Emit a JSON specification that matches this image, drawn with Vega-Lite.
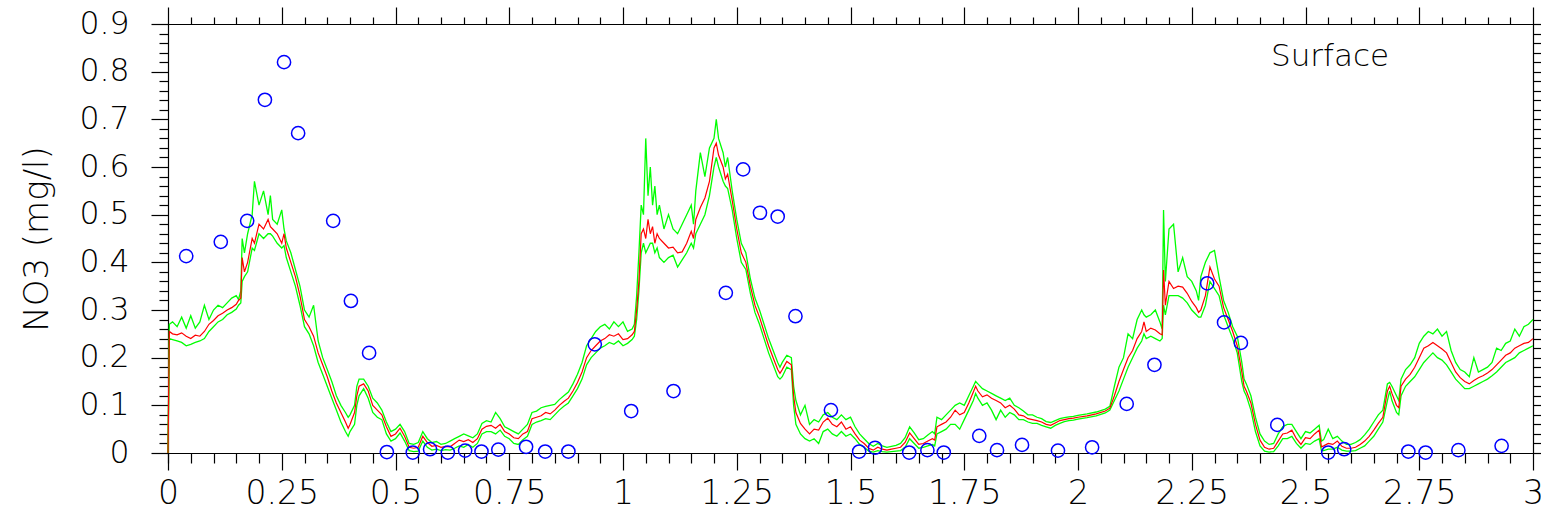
{
  "$schema": "https://vega.github.io/schema/vega-lite/v6.json",
  "autosize": {"type": "none"},
  "padding": {"left": 168, "top": 24, "right": 8, "bottom": 65},
  "width": 1365,
  "height": 429,
  "background": "white",
  "config": {
    "view": {"stroke": "black", "strokeWidth": 1},
    "axis": {"domainColor": "black", "tickColor": "black", "labelColor": "black", "titleColor": "black", "grid": false, "labelFont": "DejaVu Sans", "labelFontWeight": 200, "titleFont": "DejaVu Sans", "titleFontWeight": 200, "domainWidth": 1.2, "tickWidth": 1.2}
  },
  "datasets": {
    "lines": [
      {"t":0,"m":0,"lo":0,"hi":0},
      {"t":0.003,"m":0.255,"lo":0.24,"hi":0.27},
      {"t":0.01,"m":0.25,"lo":0.238,"hi":0.275},
      {"t":0.02,"m":0.248,"lo":0.235,"hi":0.265},
      {"t":0.03,"m":0.252,"lo":0.232,"hi":0.285},
      {"t":0.04,"m":0.245,"lo":0.225,"hi":0.262},
      {"t":0.05,"m":0.24,"lo":0.228,"hi":0.288},
      {"t":0.06,"m":0.247,"lo":0.232,"hi":0.262},
      {"t":0.07,"m":0.245,"lo":0.235,"hi":0.275},
      {"t":0.08,"m":0.255,"lo":0.24,"hi":0.31},
      {"t":0.09,"m":0.27,"lo":0.255,"hi":0.28},
      {"t":0.1,"m":0.278,"lo":0.265,"hi":0.3},
      {"t":0.11,"m":0.288,"lo":0.275,"hi":0.31},
      {"t":0.12,"m":0.293,"lo":0.28,"hi":0.305},
      {"t":0.13,"m":0.3,"lo":0.29,"hi":0.315},
      {"t":0.14,"m":0.305,"lo":0.295,"hi":0.325},
      {"t":0.15,"m":0.312,"lo":0.302,"hi":0.33},
      {"t":0.155,"m":0.32,"lo":0.31,"hi":0.322},
      {"t":0.16,"m":0.325,"lo":0.315,"hi":0.34},
      {"t":0.163,"m":0.41,"lo":0.36,"hi":0.45},
      {"t":0.168,"m":0.38,"lo":0.37,"hi":0.42},
      {"t":0.175,"m":0.4,"lo":0.38,"hi":0.46},
      {"t":0.185,"m":0.45,"lo":0.43,"hi":0.5},
      {"t":0.19,"m":0.44,"lo":0.425,"hi":0.57},
      {"t":0.2,"m":0.48,"lo":0.46,"hi":0.52},
      {"t":0.21,"m":0.47,"lo":0.45,"hi":0.55},
      {"t":0.22,"m":0.49,"lo":0.46,"hi":0.5},
      {"t":0.225,"m":0.475,"lo":0.46,"hi":0.54},
      {"t":0.23,"m":0.47,"lo":0.455,"hi":0.49},
      {"t":0.24,"m":0.46,"lo":0.44,"hi":0.48},
      {"t":0.25,"m":0.44,"lo":0.43,"hi":0.51},
      {"t":0.255,"m":0.46,"lo":0.435,"hi":0.47},
      {"t":0.26,"m":0.43,"lo":0.41,"hi":0.445},
      {"t":0.27,"m":0.4,"lo":0.38,"hi":0.42},
      {"t":0.28,"m":0.37,"lo":0.35,"hi":0.385},
      {"t":0.29,"m":0.33,"lo":0.31,"hi":0.35},
      {"t":0.3,"m":0.28,"lo":0.265,"hi":0.3},
      {"t":0.31,"m":0.265,"lo":0.25,"hi":0.285},
      {"t":0.32,"m":0.245,"lo":0.225,"hi":0.31},
      {"t":0.33,"m":0.21,"lo":0.19,"hi":0.235},
      {"t":0.34,"m":0.185,"lo":0.165,"hi":0.2},
      {"t":0.35,"m":0.16,"lo":0.14,"hi":0.175},
      {"t":0.36,"m":0.13,"lo":0.115,"hi":0.15},
      {"t":0.37,"m":0.105,"lo":0.09,"hi":0.12},
      {"t":0.38,"m":0.085,"lo":0.065,"hi":0.1},
      {"t":0.39,"m":0.065,"lo":0.045,"hi":0.085},
      {"t":0.396,"m":0.052,"lo":0.035,"hi":0.075},
      {"t":0.4,"m":0.06,"lo":0.045,"hi":0.08},
      {"t":0.41,"m":0.085,"lo":0.06,"hi":0.1},
      {"t":0.415,"m":0.12,"lo":0.1,"hi":0.14},
      {"t":0.42,"m":0.14,"lo":0.12,"hi":0.155},
      {"t":0.43,"m":0.145,"lo":0.135,"hi":0.155},
      {"t":0.44,"m":0.13,"lo":0.115,"hi":0.14},
      {"t":0.45,"m":0.1,"lo":0.085,"hi":0.115},
      {"t":0.46,"m":0.09,"lo":0.075,"hi":0.105},
      {"t":0.47,"m":0.08,"lo":0.07,"hi":0.09},
      {"t":0.48,"m":0.055,"lo":0.04,"hi":0.065},
      {"t":0.49,"m":0.035,"lo":0.025,"hi":0.045},
      {"t":0.5,"m":0.04,"lo":0.03,"hi":0.05},
      {"t":0.51,"m":0.052,"lo":0.042,"hi":0.06},
      {"t":0.52,"m":0.035,"lo":0.025,"hi":0.045},
      {"t":0.53,"m":0.012,"lo":0.005,"hi":0.02},
      {"t":0.54,"m":0.01,"lo":0.003,"hi":0.018},
      {"t":0.55,"m":0.012,"lo":0.004,"hi":0.022},
      {"t":0.56,"m":0.035,"lo":0.025,"hi":0.045},
      {"t":0.57,"m":0.022,"lo":0.012,"hi":0.03},
      {"t":0.58,"m":0.014,"lo":0.006,"hi":0.022},
      {"t":0.59,"m":0.016,"lo":0.008,"hi":0.024},
      {"t":0.6,"m":0.012,"lo":0.005,"hi":0.018},
      {"t":0.61,"m":0.014,"lo":0.007,"hi":0.02},
      {"t":0.62,"m":0.013,"lo":0.006,"hi":0.025},
      {"t":0.63,"m":0.02,"lo":0.01,"hi":0.03},
      {"t":0.64,"m":0.027,"lo":0.015,"hi":0.035},
      {"t":0.65,"m":0.024,"lo":0.012,"hi":0.04},
      {"t":0.66,"m":0.028,"lo":0.018,"hi":0.036},
      {"t":0.67,"m":0.022,"lo":0.012,"hi":0.032},
      {"t":0.68,"m":0.03,"lo":0.02,"hi":0.04},
      {"t":0.69,"m":0.05,"lo":0.04,"hi":0.062},
      {"t":0.7,"m":0.056,"lo":0.045,"hi":0.068},
      {"t":0.71,"m":0.058,"lo":0.045,"hi":0.065},
      {"t":0.72,"m":0.052,"lo":0.04,"hi":0.085},
      {"t":0.73,"m":0.06,"lo":0.048,"hi":0.072},
      {"t":0.74,"m":0.045,"lo":0.035,"hi":0.055},
      {"t":0.75,"m":0.04,"lo":0.03,"hi":0.05},
      {"t":0.76,"m":0.032,"lo":0.02,"hi":0.045},
      {"t":0.77,"m":0.03,"lo":0.018,"hi":0.04},
      {"t":0.78,"m":0.04,"lo":0.028,"hi":0.05},
      {"t":0.79,"m":0.045,"lo":0.035,"hi":0.06},
      {"t":0.8,"m":0.072,"lo":0.06,"hi":0.085},
      {"t":0.81,"m":0.075,"lo":0.065,"hi":0.088},
      {"t":0.82,"m":0.078,"lo":0.068,"hi":0.095},
      {"t":0.83,"m":0.085,"lo":0.072,"hi":0.098},
      {"t":0.84,"m":0.082,"lo":0.07,"hi":0.1},
      {"t":0.85,"m":0.09,"lo":0.08,"hi":0.102},
      {"t":0.86,"m":0.1,"lo":0.09,"hi":0.112},
      {"t":0.87,"m":0.108,"lo":0.098,"hi":0.12},
      {"t":0.88,"m":0.115,"lo":0.105,"hi":0.128},
      {"t":0.89,"m":0.13,"lo":0.12,"hi":0.145},
      {"t":0.9,"m":0.148,"lo":0.135,"hi":0.165},
      {"t":0.91,"m":0.17,"lo":0.155,"hi":0.19},
      {"t":0.92,"m":0.2,"lo":0.185,"hi":0.225},
      {"t":0.93,"m":0.215,"lo":0.2,"hi":0.24},
      {"t":0.94,"m":0.225,"lo":0.21,"hi":0.255},
      {"t":0.95,"m":0.235,"lo":0.22,"hi":0.265},
      {"t":0.96,"m":0.24,"lo":0.225,"hi":0.27},
      {"t":0.97,"m":0.248,"lo":0.232,"hi":0.26},
      {"t":0.98,"m":0.245,"lo":0.228,"hi":0.275},
      {"t":0.99,"m":0.25,"lo":0.235,"hi":0.265},
      {"t":1.0,"m":0.238,"lo":0.225,"hi":0.275},
      {"t":1.01,"m":0.24,"lo":0.23,"hi":0.255},
      {"t":1.02,"m":0.248,"lo":0.238,"hi":0.26},
      {"t":1.025,"m":0.255,"lo":0.245,"hi":0.27},
      {"t":1.03,"m":0.3,"lo":0.28,"hi":0.33},
      {"t":1.035,"m":0.36,"lo":0.34,"hi":0.42},
      {"t":1.04,"m":0.46,"lo":0.42,"hi":0.52},
      {"t":1.045,"m":0.47,"lo":0.44,"hi":0.5},
      {"t":1.05,"m":0.45,"lo":0.42,"hi":0.66},
      {"t":1.055,"m":0.49,"lo":0.43,"hi":0.54},
      {"t":1.06,"m":0.46,"lo":0.44,"hi":0.6},
      {"t":1.065,"m":0.475,"lo":0.44,"hi":0.52},
      {"t":1.07,"m":0.44,"lo":0.42,"hi":0.56},
      {"t":1.075,"m":0.46,"lo":0.43,"hi":0.5},
      {"t":1.08,"m":0.45,"lo":0.41,"hi":0.52},
      {"t":1.09,"m":0.44,"lo":0.4,"hi":0.47},
      {"t":1.1,"m":0.43,"lo":0.41,"hi":0.5},
      {"t":1.11,"m":0.432,"lo":0.415,"hi":0.47},
      {"t":1.12,"m":0.42,"lo":0.39,"hi":0.46},
      {"t":1.13,"m":0.422,"lo":0.405,"hi":0.48},
      {"t":1.14,"m":0.44,"lo":0.42,"hi":0.5},
      {"t":1.15,"m":0.465,"lo":0.44,"hi":0.52},
      {"t":1.155,"m":0.45,"lo":0.43,"hi":0.48},
      {"t":1.16,"m":0.49,"lo":0.46,"hi":0.55},
      {"t":1.17,"m":0.515,"lo":0.48,"hi":0.63},
      {"t":1.18,"m":0.535,"lo":0.5,"hi":0.58},
      {"t":1.19,"m":0.57,"lo":0.54,"hi":0.64},
      {"t":1.2,"m":0.64,"lo":0.6,"hi":0.66},
      {"t":1.205,"m":0.65,"lo":0.62,"hi":0.7},
      {"t":1.21,"m":0.625,"lo":0.6,"hi":0.66},
      {"t":1.22,"m":0.6,"lo":0.57,"hi":0.63},
      {"t":1.225,"m":0.575,"lo":0.56,"hi":0.6},
      {"t":1.23,"m":0.585,"lo":0.555,"hi":0.62},
      {"t":1.24,"m":0.53,"lo":0.51,"hi":0.55},
      {"t":1.25,"m":0.47,"lo":0.45,"hi":0.49},
      {"t":1.26,"m":0.42,"lo":0.4,"hi":0.44},
      {"t":1.27,"m":0.4,"lo":0.385,"hi":0.42},
      {"t":1.28,"m":0.35,"lo":0.335,"hi":0.365},
      {"t":1.29,"m":0.31,"lo":0.295,"hi":0.325},
      {"t":1.3,"m":0.285,"lo":0.27,"hi":0.3},
      {"t":1.31,"m":0.255,"lo":0.24,"hi":0.27},
      {"t":1.32,"m":0.225,"lo":0.21,"hi":0.24},
      {"t":1.33,"m":0.2,"lo":0.185,"hi":0.215},
      {"t":1.34,"m":0.175,"lo":0.16,"hi":0.19},
      {"t":1.345,"m":0.167,"lo":0.155,"hi":0.18},
      {"t":1.35,"m":0.175,"lo":0.16,"hi":0.19},
      {"t":1.36,"m":0.192,"lo":0.18,"hi":0.205},
      {"t":1.37,"m":0.185,"lo":0.175,"hi":0.2},
      {"t":1.375,"m":0.12,"lo":0.1,"hi":0.14},
      {"t":1.38,"m":0.085,"lo":0.06,"hi":0.11},
      {"t":1.39,"m":0.062,"lo":0.04,"hi":0.08},
      {"t":1.4,"m":0.05,"lo":0.03,"hi":0.1},
      {"t":1.41,"m":0.04,"lo":0.025,"hi":0.06},
      {"t":1.42,"m":0.05,"lo":0.03,"hi":0.07},
      {"t":1.43,"m":0.048,"lo":0.02,"hi":0.065},
      {"t":1.44,"m":0.065,"lo":0.045,"hi":0.08},
      {"t":1.45,"m":0.073,"lo":0.05,"hi":0.085},
      {"t":1.46,"m":0.06,"lo":0.04,"hi":0.075},
      {"t":1.47,"m":0.055,"lo":0.035,"hi":0.07},
      {"t":1.48,"m":0.065,"lo":0.045,"hi":0.08},
      {"t":1.49,"m":0.05,"lo":0.035,"hi":0.07},
      {"t":1.5,"m":0.055,"lo":0.04,"hi":0.075},
      {"t":1.51,"m":0.04,"lo":0.03,"hi":0.055},
      {"t":1.52,"m":0.027,"lo":0.018,"hi":0.04},
      {"t":1.53,"m":0.02,"lo":0.012,"hi":0.03},
      {"t":1.54,"m":0.01,"lo":0.004,"hi":0.02},
      {"t":1.55,"m":0.006,"lo":0.002,"hi":0.014},
      {"t":1.56,"m":0.012,"lo":0.005,"hi":0.02},
      {"t":1.57,"m":0.008,"lo":0.003,"hi":0.015},
      {"t":1.58,"m":0.006,"lo":0.002,"hi":0.012},
      {"t":1.59,"m":0.008,"lo":0.003,"hi":0.014},
      {"t":1.6,"m":0.01,"lo":0.004,"hi":0.016},
      {"t":1.61,"m":0.012,"lo":0.005,"hi":0.02},
      {"t":1.62,"m":0.022,"lo":0.012,"hi":0.032},
      {"t":1.63,"m":0.042,"lo":0.03,"hi":0.055},
      {"t":1.64,"m":0.03,"lo":0.02,"hi":0.042},
      {"t":1.65,"m":0.018,"lo":0.01,"hi":0.028},
      {"t":1.66,"m":0.02,"lo":0.012,"hi":0.03},
      {"t":1.67,"m":0.025,"lo":0.015,"hi":0.038},
      {"t":1.68,"m":0.03,"lo":0.018,"hi":0.045},
      {"t":1.685,"m":0.027,"lo":0.015,"hi":0.04},
      {"t":1.69,"m":0.055,"lo":0.04,"hi":0.075},
      {"t":1.7,"m":0.06,"lo":0.045,"hi":0.07},
      {"t":1.71,"m":0.065,"lo":0.05,"hi":0.08},
      {"t":1.72,"m":0.075,"lo":0.06,"hi":0.09},
      {"t":1.73,"m":0.09,"lo":0.06,"hi":0.1},
      {"t":1.74,"m":0.08,"lo":0.05,"hi":0.105},
      {"t":1.75,"m":0.085,"lo":0.07,"hi":0.1},
      {"t":1.76,"m":0.105,"lo":0.09,"hi":0.12},
      {"t":1.77,"m":0.128,"lo":0.11,"hi":0.14},
      {"t":1.775,"m":0.14,"lo":0.125,"hi":0.15},
      {"t":1.78,"m":0.13,"lo":0.115,"hi":0.145},
      {"t":1.79,"m":0.118,"lo":0.1,"hi":0.135},
      {"t":1.8,"m":0.122,"lo":0.105,"hi":0.13},
      {"t":1.81,"m":0.115,"lo":0.09,"hi":0.125},
      {"t":1.82,"m":0.11,"lo":0.07,"hi":0.12},
      {"t":1.83,"m":0.105,"lo":0.09,"hi":0.115},
      {"t":1.84,"m":0.095,"lo":0.075,"hi":0.11},
      {"t":1.85,"m":0.1,"lo":0.085,"hi":0.115},
      {"t":1.86,"m":0.092,"lo":0.08,"hi":0.1},
      {"t":1.87,"m":0.08,"lo":0.07,"hi":0.095},
      {"t":1.88,"m":0.078,"lo":0.07,"hi":0.088},
      {"t":1.89,"m":0.072,"lo":0.065,"hi":0.08},
      {"t":1.9,"m":0.07,"lo":0.062,"hi":0.08},
      {"t":1.91,"m":0.068,"lo":0.062,"hi":0.075},
      {"t":1.92,"m":0.065,"lo":0.058,"hi":0.072},
      {"t":1.93,"m":0.06,"lo":0.055,"hi":0.066},
      {"t":1.94,"m":0.058,"lo":0.052,"hi":0.064},
      {"t":1.95,"m":0.063,"lo":0.058,"hi":0.068},
      {"t":1.96,"m":0.068,"lo":0.062,"hi":0.072},
      {"t":1.97,"m":0.07,"lo":0.066,"hi":0.074},
      {"t":1.98,"m":0.072,"lo":0.068,"hi":0.076},
      {"t":1.99,"m":0.073,"lo":0.069,"hi":0.077},
      {"t":2.0,"m":0.075,"lo":0.071,"hi":0.079},
      {"t":2.02,"m":0.078,"lo":0.074,"hi":0.082},
      {"t":2.04,"m":0.082,"lo":0.078,"hi":0.086},
      {"t":2.06,"m":0.088,"lo":0.084,"hi":0.092},
      {"t":2.07,"m":0.094,"lo":0.09,"hi":0.098},
      {"t":2.08,"m":0.12,"lo":0.11,"hi":0.14},
      {"t":2.09,"m":0.15,"lo":0.13,"hi":0.18},
      {"t":2.1,"m":0.175,"lo":0.155,"hi":0.2},
      {"t":2.11,"m":0.2,"lo":0.18,"hi":0.25},
      {"t":2.12,"m":0.215,"lo":0.2,"hi":0.24},
      {"t":2.13,"m":0.24,"lo":0.22,"hi":0.28},
      {"t":2.14,"m":0.255,"lo":0.235,"hi":0.3},
      {"t":2.145,"m":0.275,"lo":0.25,"hi":0.29},
      {"t":2.15,"m":0.255,"lo":0.24,"hi":0.285},
      {"t":2.16,"m":0.262,"lo":0.245,"hi":0.29},
      {"t":2.17,"m":0.258,"lo":0.24,"hi":0.3},
      {"t":2.18,"m":0.25,"lo":0.235,"hi":0.275},
      {"t":2.185,"m":0.248,"lo":0.24,"hi":0.26},
      {"t":2.188,"m":0.384,"lo":0.31,"hi":0.51},
      {"t":2.192,"m":0.31,"lo":0.29,"hi":0.36},
      {"t":2.2,"m":0.36,"lo":0.33,"hi":0.47},
      {"t":2.21,"m":0.345,"lo":0.33,"hi":0.48},
      {"t":2.22,"m":0.35,"lo":0.33,"hi":0.38},
      {"t":2.23,"m":0.348,"lo":0.325,"hi":0.41},
      {"t":2.24,"m":0.335,"lo":0.315,"hi":0.37},
      {"t":2.25,"m":0.318,"lo":0.3,"hi":0.36},
      {"t":2.26,"m":0.305,"lo":0.29,"hi":0.34},
      {"t":2.265,"m":0.295,"lo":0.285,"hi":0.32},
      {"t":2.27,"m":0.3,"lo":0.285,"hi":0.37},
      {"t":2.28,"m":0.33,"lo":0.31,"hi":0.4},
      {"t":2.29,"m":0.39,"lo":0.36,"hi":0.42},
      {"t":2.3,"m":0.365,"lo":0.345,"hi":0.425},
      {"t":2.31,"m":0.35,"lo":0.33,"hi":0.37},
      {"t":2.32,"m":0.305,"lo":0.29,"hi":0.32},
      {"t":2.33,"m":0.28,"lo":0.265,"hi":0.295},
      {"t":2.34,"m":0.255,"lo":0.24,"hi":0.265},
      {"t":2.35,"m":0.225,"lo":0.21,"hi":0.245},
      {"t":2.36,"m":0.17,"lo":0.15,"hi":0.19},
      {"t":2.365,"m":0.14,"lo":0.13,"hi":0.155},
      {"t":2.37,"m":0.13,"lo":0.12,"hi":0.145},
      {"t":2.38,"m":0.105,"lo":0.09,"hi":0.12},
      {"t":2.39,"m":0.06,"lo":0.045,"hi":0.075},
      {"t":2.4,"m":0.027,"lo":0.015,"hi":0.04},
      {"t":2.41,"m":0.012,"lo":0.004,"hi":0.025},
      {"t":2.42,"m":0.008,"lo":0.002,"hi":0.018},
      {"t":2.43,"m":0.01,"lo":0.003,"hi":0.02},
      {"t":2.44,"m":0.025,"lo":0.015,"hi":0.04},
      {"t":2.45,"m":0.04,"lo":0.03,"hi":0.055},
      {"t":2.46,"m":0.042,"lo":0.03,"hi":0.06},
      {"t":2.47,"m":0.048,"lo":0.035,"hi":0.06},
      {"t":2.48,"m":0.03,"lo":0.02,"hi":0.045},
      {"t":2.49,"m":0.018,"lo":0.01,"hi":0.03},
      {"t":2.5,"m":0.032,"lo":0.02,"hi":0.045},
      {"t":2.51,"m":0.03,"lo":0.018,"hi":0.042},
      {"t":2.52,"m":0.04,"lo":0.025,"hi":0.05},
      {"t":2.53,"m":0.048,"lo":0.03,"hi":0.058},
      {"t":2.535,"m":0.013,"lo":0.005,"hi":0.025},
      {"t":2.54,"m":0.015,"lo":0.005,"hi":0.028},
      {"t":2.55,"m":0.02,"lo":0.008,"hi":0.05},
      {"t":2.56,"m":0.018,"lo":0.008,"hi":0.03},
      {"t":2.57,"m":0.025,"lo":0.012,"hi":0.035},
      {"t":2.58,"m":0.014,"lo":0.006,"hi":0.025},
      {"t":2.59,"m":0.01,"lo":0.004,"hi":0.018},
      {"t":2.6,"m":0.01,"lo":0.004,"hi":0.018},
      {"t":2.61,"m":0.012,"lo":0.005,"hi":0.022},
      {"t":2.62,"m":0.018,"lo":0.01,"hi":0.028},
      {"t":2.63,"m":0.025,"lo":0.015,"hi":0.038},
      {"t":2.64,"m":0.035,"lo":0.025,"hi":0.05},
      {"t":2.65,"m":0.048,"lo":0.035,"hi":0.065},
      {"t":2.66,"m":0.062,"lo":0.05,"hi":0.08},
      {"t":2.67,"m":0.075,"lo":0.065,"hi":0.09},
      {"t":2.68,"m":0.13,"lo":0.11,"hi":0.145},
      {"t":2.685,"m":0.14,"lo":0.13,"hi":0.148},
      {"t":2.69,"m":0.125,"lo":0.11,"hi":0.14},
      {"t":2.7,"m":0.1,"lo":0.085,"hi":0.12},
      {"t":2.705,"m":0.095,"lo":0.08,"hi":0.11},
      {"t":2.71,"m":0.14,"lo":0.12,"hi":0.155},
      {"t":2.72,"m":0.155,"lo":0.14,"hi":0.175},
      {"t":2.73,"m":0.165,"lo":0.15,"hi":0.185},
      {"t":2.74,"m":0.18,"lo":0.16,"hi":0.2},
      {"t":2.75,"m":0.2,"lo":0.175,"hi":0.23},
      {"t":2.76,"m":0.22,"lo":0.19,"hi":0.245},
      {"t":2.77,"m":0.225,"lo":0.2,"hi":0.255},
      {"t":2.78,"m":0.232,"lo":0.21,"hi":0.25},
      {"t":2.79,"m":0.225,"lo":0.2,"hi":0.26},
      {"t":2.8,"m":0.218,"lo":0.195,"hi":0.245},
      {"t":2.81,"m":0.21,"lo":0.185,"hi":0.255},
      {"t":2.82,"m":0.19,"lo":0.17,"hi":0.215},
      {"t":2.83,"m":0.17,"lo":0.155,"hi":0.19},
      {"t":2.84,"m":0.158,"lo":0.145,"hi":0.175},
      {"t":2.85,"m":0.15,"lo":0.135,"hi":0.17},
      {"t":2.86,"m":0.145,"lo":0.135,"hi":0.16},
      {"t":2.87,"m":0.152,"lo":0.14,"hi":0.2},
      {"t":2.88,"m":0.158,"lo":0.145,"hi":0.17},
      {"t":2.89,"m":0.162,"lo":0.15,"hi":0.175},
      {"t":2.9,"m":0.168,"lo":0.155,"hi":0.18},
      {"t":2.91,"m":0.175,"lo":0.162,"hi":0.19},
      {"t":2.92,"m":0.185,"lo":0.17,"hi":0.22},
      {"t":2.93,"m":0.195,"lo":0.18,"hi":0.215},
      {"t":2.94,"m":0.205,"lo":0.19,"hi":0.23},
      {"t":2.95,"m":0.21,"lo":0.195,"hi":0.235},
      {"t":2.96,"m":0.22,"lo":0.2,"hi":0.26},
      {"t":2.97,"m":0.225,"lo":0.21,"hi":0.245},
      {"t":2.98,"m":0.23,"lo":0.215,"hi":0.265},
      {"t":2.99,"m":0.232,"lo":0.22,"hi":0.27},
      {"t":3.0,"m":0.24,"lo":0.225,"hi":0.28}
    ],
    "obs": [
      {"t":0.04,"v":0.413},{"t":0.116,"v":0.443},{"t":0.174,"v":0.487},{"t":0.213,"v":0.741},
      {"t":0.255,"v":0.82},{"t":0.286,"v":0.671},{"t":0.363,"v":0.487},{"t":0.402,"v":0.319},
      {"t":0.442,"v":0.21},{"t":0.481,"v":0.002},{"t":0.538,"v":0.001},{"t":0.576,"v":0.008},
      {"t":0.615,"v":0.001},{"t":0.653,"v":0.005},{"t":0.689,"v":0.003},{"t":0.726,"v":0.007},
      {"t":0.787,"v":0.013},{"t":0.829,"v":0.003},{"t":0.88,"v":0.003},{"t":0.938,"v":0.228},
      {"t":1.018,"v":0.088},{"t":1.111,"v":0.13},{"t":1.226,"v":0.336},{"t":1.264,"v":0.595},
      {"t":1.301,"v":0.504},{"t":1.34,"v":0.496},{"t":1.379,"v":0.287},{"t":1.457,"v":0.09},
      {"t":1.519,"v":0.003},{"t":1.554,"v":0.011},{"t":1.629,"v":0.001},{"t":1.669,"v":0.006},
      {"t":1.705,"v":0.001},{"t":1.783,"v":0.036},{"t":1.822,"v":0.006},{"t":1.877,"v":0.017},
      {"t":1.956,"v":0.005},{"t":2.031,"v":0.012},{"t":2.107,"v":0.103},{"t":2.168,"v":0.185},
      {"t":2.284,"v":0.356},{"t":2.321,"v":0.274},{"t":2.358,"v":0.231},{"t":2.438,"v":0.059},
      {"t":2.55,"v":0.001},{"t":2.585,"v":0.008},{"t":2.726,"v":0.003},{"t":2.764,"v":0.001},
      {"t":2.836,"v":0.006},{"t":2.931,"v":0.015}
    ],
    "label": [{"t":2.554,"v":0.812,"txt":"Surface"}]
  },
  "resolve": {"axis": {"x": "independent", "y": "independent"}},
  "layer": [
    {
      "data": {"name": "lines"},
      "mark": {"type": "line", "color": "#00ff00", "strokeWidth": 1.3},
      "encoding": {
        "x": {"field": "t", "type": "quantitative", "scale": {"domain": [0, 3], "nice": false},
          "axis": {"orient": "bottom", "values": [0,0.25,0.5,0.75,1,1.25,1.5,1.75,2,2.25,2.5,2.75,3], "format": ".3~g", "tickSize": 17, "labelPadding": 7, "labelFontSize": 33, "title": null, "labelFlush": false}},
        "y": {"field": "hi", "type": "quantitative", "scale": {"domain": [0, 0.9], "nice": false},
          "axis": {"orient": "left", "values": [0,0.1,0.2,0.3,0.4,0.5,0.6,0.7,0.8,0.9], "format": ".3~g", "tickSize": 17, "labelPadding": 22, "labelFontSize": 31.5, "title": "NO3 (mg/l)", "titleFontSize": 34, "titlePadding": 24, "labelFlush": false}}
      }
    },
    {
      "data": {"name": "lines"},
      "mark": {"type": "line", "color": "#00ff00", "strokeWidth": 1.3},
      "encoding": {
        "x": {"field": "t", "type": "quantitative",
          "axis": {"orient": "bottom", "values": [0,0.05,0.1,0.15,0.2,0.3,0.35,0.4,0.45,0.55,0.6,0.65,0.7,0.8,0.85,0.9,0.95,1.05,1.1,1.15,1.2,1.3,1.35,1.4,1.45,1.55,1.6,1.65,1.7,1.8,1.85,1.9,1.95,2.05,2.1,2.15,2.2,2.3,2.35,2.4,2.45,2.55,2.6,2.65,2.7,2.8,2.85,2.9,2.95], "tickSize": 10, "labels": false, "domain": false, "title": null}},
        "y": {"field": "lo", "type": "quantitative",
          "axis": {"orient": "left", "values": [0.02,0.04,0.06,0.08,0.12,0.14,0.16,0.18,0.22,0.24,0.26,0.28,0.32,0.34,0.36,0.38,0.42,0.44,0.46,0.48,0.52,0.54,0.56,0.58,0.62,0.64,0.66,0.68,0.72,0.74,0.76,0.78,0.82,0.84,0.86,0.88], "tickSize": 9, "labels": false, "domain": false, "title": null}}
      }
    },
    {
      "data": {"name": "lines"},
      "mark": {"type": "line", "color": "#ff0000", "strokeWidth": 1.2},
      "encoding": {
        "x": {"field": "t", "type": "quantitative",
          "axis": {"orient": "top", "values": [0,0.25,0.5,0.75,1,1.25,1.5,1.75,2,2.25,2.5,2.75,3], "tickSize": 17, "labels": false, "title": null}},
        "y": {"field": "m", "type": "quantitative",
          "axis": {"orient": "right", "values": [0,0.1,0.2,0.3,0.4,0.5,0.6,0.7,0.8,0.9], "tickSize": 17, "labels": false, "title": null}}
      }
    },
    {
      "data": {"name": "obs"},
      "mark": {"type": "point", "shape": "circle", "filled": false, "color": "#0000ff", "strokeWidth": 1.5, "size": 175, "opacity": 1},
      "encoding": {
        "x": {"field": "t", "type": "quantitative",
          "axis": {"orient": "top", "values": [0.05,0.1,0.15,0.2,0.3,0.35,0.4,0.45,0.55,0.6,0.65,0.7,0.8,0.85,0.9,0.95,1.05,1.1,1.15,1.2,1.3,1.35,1.4,1.45,1.55,1.6,1.65,1.7,1.8,1.85,1.9,1.95,2.05,2.1,2.15,2.2,2.3,2.35,2.4,2.45,2.55,2.6,2.65,2.7,2.8,2.85,2.9,2.95], "tickSize": 7, "labels": false, "domain": false, "title": null}},
        "y": {"field": "v", "type": "quantitative",
          "axis": {"orient": "right", "values": [0.02,0.04,0.06,0.08,0.12,0.14,0.16,0.18,0.22,0.24,0.26,0.28,0.32,0.34,0.36,0.38,0.42,0.44,0.46,0.48,0.52,0.54,0.56,0.58,0.62,0.64,0.66,0.68,0.72,0.74,0.76,0.78,0.82,0.84,0.86,0.88], "tickSize": 9, "labels": false, "domain": false, "title": null}}
      }
    },
    {
      "data": {"name": "label"},
      "mark": {"type": "text", "font": "DejaVu Sans", "fontWeight": 200, "fontSize": 31, "align": "center", "baseline": "alphabetic", "color": "black"},
      "encoding": {
        "x": {"field": "t", "type": "quantitative", "axis": null},
        "y": {"field": "v", "type": "quantitative", "axis": null},
        "text": {"field": "txt"}
      }
    }
  ]
}
